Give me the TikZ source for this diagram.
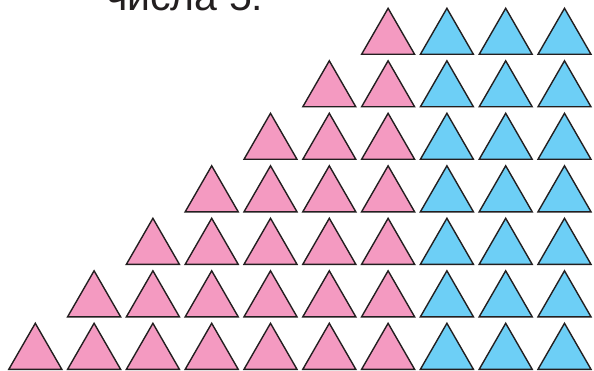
\documentclass[tikz,border=0pt]{standalone}
\usepackage{fontspec}
\setmainfont{Liberation Sans}
\definecolor{trpink}{HTML}{F49AC1}
\definecolor{trblue}{HTML}{6DCFF6}
\definecolor{trink}{HTML}{231F20}
\tikzset{
  tri/.style={draw=trink,line width=1.4pt,line join=miter},
  caption/.style={font=\fontsize{41}{41}\selectfont,text=trink,anchor=base west,inner sep=0pt},
}
\begin{document}
\begin{tikzpicture}[x=1pt,y=1pt]
  \useasboundingbox (0,0) rectangle (594,370);
  \node[caption] (title) at (106,359) {числа 5:};

  % ---------------- staircase of triangles ----------------
  \foreach \r in {0,...,6}{
    \pgfmathtruncatemacro\lastcol{3+\r}
    \foreach \c in {0,...,\lastcol}{
      \pgfmathsetmacro\lx{538-58.8*\c}
      \pgfmathsetmacro\by{315.7-52.5*\r}
      \ifnum\c<3 \def\trifill{trblue}\else\def\trifill{trpink}\fi
      \draw[tri,fill=\trifill] (\lx,\by) -- ++(53,0) -- ++(-26.5,46) -- cycle;
    }
  }
\end{tikzpicture}
\end{document}
